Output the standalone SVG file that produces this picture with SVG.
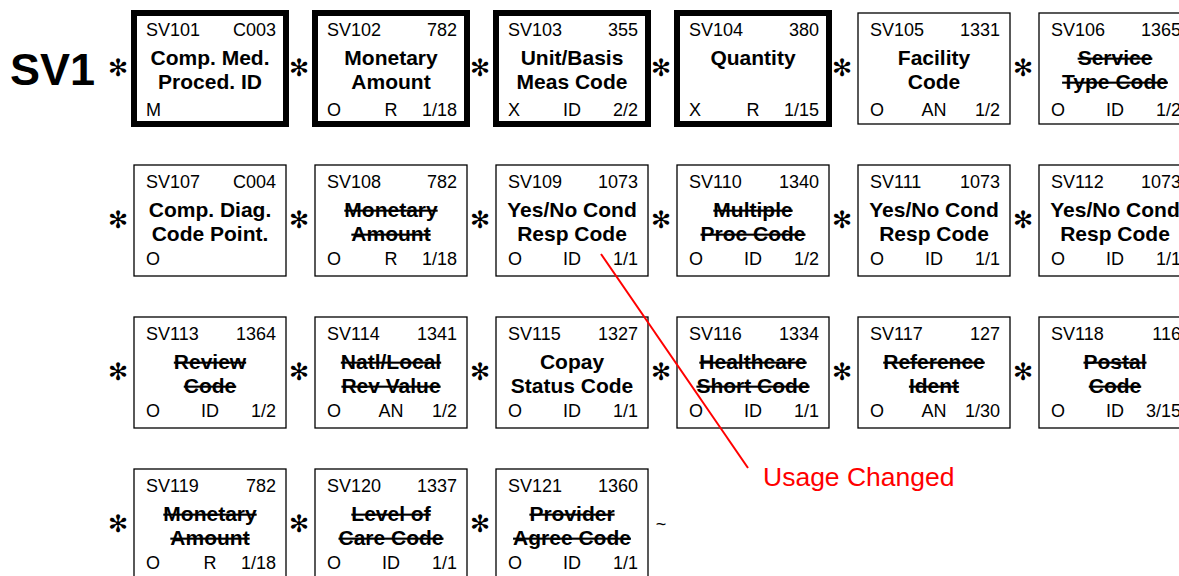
<svg xmlns="http://www.w3.org/2000/svg" width="1179" height="576" viewBox="0 0 1179 576">
<style>
  text { font-family: "Liberation Sans", Arial, sans-serif; fill: #000; }
  .box { fill: #fff; stroke: #000; stroke-width: 1.3; }
  .thick { fill: #fff; stroke: #000; stroke-width: 6; }
  .sm { font-size: 18px; }
  .r { text-anchor: end; }
  .m { text-anchor: middle; }
  .t { font-size: 21px; font-weight: bold; text-anchor: middle; }
  .s { text-decoration: line-through; }
  .ast { font-family: "DejaVu Sans", sans-serif; font-size: 24px; text-anchor: middle; }
  .red { stroke: #ff0000; stroke-width: 2; fill: none; }
</style>
<rect width="1179" height="576" fill="#fff"/>
<text x="10" y="85" style="font-size:45px;font-weight:bold">SV1</text>
<g id="separators">
  <text class="ast" x="118" y="76">✻</text><text class="ast" x="299" y="76">✻</text><text class="ast" x="480" y="76">✻</text><text class="ast" x="661" y="76">✻</text><text class="ast" x="842" y="76">✻</text><text class="ast" x="1023" y="76">✻</text>
  <text class="ast" x="118" y="228">✻</text><text class="ast" x="299" y="228">✻</text><text class="ast" x="480" y="228">✻</text><text class="ast" x="661" y="228">✻</text><text class="ast" x="842" y="228">✻</text><text class="ast" x="1023" y="228">✻</text>
  <text class="ast" x="118" y="380">✻</text><text class="ast" x="299" y="380">✻</text><text class="ast" x="480" y="380">✻</text><text class="ast" x="661" y="380">✻</text><text class="ast" x="842" y="380">✻</text><text class="ast" x="1023" y="380">✻</text>
  <text class="ast" x="118" y="532">✻</text><text class="ast" x="299" y="532">✻</text><text class="ast" x="480" y="532">✻</text>
  <text x="661" y="530" class="m" style="font-size:18px">~</text>
</g>
<g id="SV101" transform="translate(134,13)"><rect class="thick" width="152" height="111"/><text class="sm" x="12" y="23">SV101</text><text class="sm r" x="142" y="23">C003</text><text class="t" x="76" y="52">Comp. Med.</text><text class="t" x="76" y="76">Proced. ID</text><text class="sm" x="12" y="103">M</text></g>
<g id="SV102" transform="translate(315,13)"><rect class="thick" width="152" height="111"/><text class="sm" x="12" y="23">SV102</text><text class="sm r" x="142" y="23">782</text><text class="t" x="76" y="52">Monetary</text><text class="t" x="76" y="76">Amount</text><text class="sm" x="12" y="103">O</text><text class="sm m" x="76" y="103">R</text><text class="sm r" x="142" y="103">1/18</text></g>
<g id="SV103" transform="translate(496,13)"><rect class="thick" width="152" height="111"/><text class="sm" x="12" y="23">SV103</text><text class="sm r" x="142" y="23">355</text><text class="t" x="76" y="52">Unit/Basis</text><text class="t" x="76" y="76">Meas Code</text><text class="sm" x="12" y="103">X</text><text class="sm m" x="76" y="103">ID</text><text class="sm r" x="142" y="103">2/2</text></g>
<g id="SV104" transform="translate(677,13)"><rect class="thick" width="152" height="111"/><text class="sm" x="12" y="23">SV104</text><text class="sm r" x="142" y="23">380</text><text class="t" x="76" y="52">Quantity</text><text class="sm" x="12" y="103">X</text><text class="sm m" x="76" y="103">R</text><text class="sm r" x="142" y="103">1/15</text></g>
<g id="SV105" transform="translate(858,13)"><rect class="box" width="152" height="111"/><text class="sm" x="12" y="23">SV105</text><text class="sm r" x="142" y="23">1331</text><text class="t" x="76" y="52">Facility</text><text class="t" x="76" y="76">Code</text><text class="sm" x="12" y="103">O</text><text class="sm m" x="76" y="103">AN</text><text class="sm r" x="142" y="103">1/2</text></g>
<g id="SV106" transform="translate(1039,13)"><rect class="box" width="152" height="111"/><text class="sm" x="12" y="23">SV106</text><text class="sm r" x="142" y="23">1365</text><text class="t s" x="76" y="52">Service</text><text class="t s" x="76" y="76">Type Code</text><text class="sm" x="12" y="103">O</text><text class="sm m" x="76" y="103">ID</text><text class="sm r" x="142" y="103">1/2</text></g>

<g id="SV107" transform="translate(134,165)"><rect class="box" width="152" height="111"/><text class="sm" x="12" y="23">SV107</text><text class="sm r" x="142" y="23">C004</text><text class="t" x="76" y="52">Comp. Diag.</text><text class="t" x="76" y="76">Code Point.</text><text class="sm" x="12" y="100">O</text></g>
<g id="SV108" transform="translate(315,165)"><rect class="box" width="152" height="111"/><text class="sm" x="12" y="23">SV108</text><text class="sm r" x="142" y="23">782</text><text class="t s" x="76" y="52">Monetary</text><text class="t s" x="76" y="76">Amount</text><text class="sm" x="12" y="100">O</text><text class="sm m" x="76" y="100">R</text><text class="sm r" x="142" y="100">1/18</text></g>
<g id="SV109" transform="translate(496,165)"><rect class="box" width="152" height="111"/><text class="sm" x="12" y="23">SV109</text><text class="sm r" x="142" y="23">1073</text><text class="t" x="76" y="52">Yes/No Cond</text><text class="t" x="76" y="76">Resp Code</text><text class="sm" x="12" y="100">O</text><text class="sm m" x="76" y="100">ID</text><text class="sm r" x="142" y="100">1/1</text></g>
<g id="SV110" transform="translate(677,165)"><rect class="box" width="152" height="111"/><text class="sm" x="12" y="23">SV110</text><text class="sm r" x="142" y="23">1340</text><text class="t s" x="76" y="52">Multiple</text><text class="t s" x="76" y="76">Proc Code</text><text class="sm" x="12" y="100">O</text><text class="sm m" x="76" y="100">ID</text><text class="sm r" x="142" y="100">1/2</text></g>
<g id="SV111" transform="translate(858,165)"><rect class="box" width="152" height="111"/><text class="sm" x="12" y="23">SV111</text><text class="sm r" x="142" y="23">1073</text><text class="t" x="76" y="52">Yes/No Cond</text><text class="t" x="76" y="76">Resp Code</text><text class="sm" x="12" y="100">O</text><text class="sm m" x="76" y="100">ID</text><text class="sm r" x="142" y="100">1/1</text></g>
<g id="SV112" transform="translate(1039,165)"><rect class="box" width="152" height="111"/><text class="sm" x="12" y="23">SV112</text><text class="sm r" x="142" y="23">1073</text><text class="t" x="76" y="52">Yes/No Cond</text><text class="t" x="76" y="76">Resp Code</text><text class="sm" x="12" y="100">O</text><text class="sm m" x="76" y="100">ID</text><text class="sm r" x="142" y="100">1/1</text></g>

<g id="SV113" transform="translate(134,317)"><rect class="box" width="152" height="111"/><text class="sm" x="12" y="23">SV113</text><text class="sm r" x="142" y="23">1364</text><text class="t s" x="76" y="52">Review</text><text class="t s" x="76" y="76">Code</text><text class="sm" x="12" y="100">O</text><text class="sm m" x="76" y="100">ID</text><text class="sm r" x="142" y="100">1/2</text></g>
<g id="SV114" transform="translate(315,317)"><rect class="box" width="152" height="111"/><text class="sm" x="12" y="23">SV114</text><text class="sm r" x="142" y="23">1341</text><text class="t s" x="76" y="52">Natl/Local</text><text class="t s" x="76" y="76">Rev Value</text><text class="sm" x="12" y="100">O</text><text class="sm m" x="76" y="100">AN</text><text class="sm r" x="142" y="100">1/2</text></g>
<g id="SV115" transform="translate(496,317)"><rect class="box" width="152" height="111"/><text class="sm" x="12" y="23">SV115</text><text class="sm r" x="142" y="23">1327</text><text class="t" x="76" y="52">Copay</text><text class="t" x="76" y="76">Status Code</text><text class="sm" x="12" y="100">O</text><text class="sm m" x="76" y="100">ID</text><text class="sm r" x="142" y="100">1/1</text></g>
<g id="SV116" transform="translate(677,317)"><rect class="box" width="152" height="111"/><text class="sm" x="12" y="23">SV116</text><text class="sm r" x="142" y="23">1334</text><text class="t s" x="76" y="52">Healthcare</text><text class="t s" x="76" y="76">Short Code</text><text class="sm" x="12" y="100">O</text><text class="sm m" x="76" y="100">ID</text><text class="sm r" x="142" y="100">1/1</text></g>
<g id="SV117" transform="translate(858,317)"><rect class="box" width="152" height="111"/><text class="sm" x="12" y="23">SV117</text><text class="sm r" x="142" y="23">127</text><text class="t s" x="76" y="52">Reference</text><text class="t s" x="76" y="76">Ident</text><text class="sm" x="12" y="100">O</text><text class="sm m" x="76" y="100">AN</text><text class="sm r" x="142" y="100">1/30</text></g>
<g id="SV118" transform="translate(1039,317)"><rect class="box" width="152" height="111"/><text class="sm" x="12" y="23">SV118</text><text class="sm r" x="142" y="23">116</text><text class="t s" x="76" y="52">Postal</text><text class="t s" x="76" y="76">Code</text><text class="sm" x="12" y="100">O</text><text class="sm m" x="76" y="100">ID</text><text class="sm r" x="142" y="100">3/15</text></g>

<g id="SV119" transform="translate(134,469)"><rect class="box" width="152" height="111"/><text class="sm" x="12" y="23">SV119</text><text class="sm r" x="142" y="23">782</text><text class="t s" x="76" y="52">Monetary</text><text class="t s" x="76" y="76">Amount</text><text class="sm" x="12" y="100">O</text><text class="sm m" x="76" y="100">R</text><text class="sm r" x="142" y="100">1/18</text></g>
<g id="SV120" transform="translate(315,469)"><rect class="box" width="152" height="111"/><text class="sm" x="12" y="23">SV120</text><text class="sm r" x="142" y="23">1337</text><text class="t s" x="76" y="52">Level of</text><text class="t s" x="76" y="76">Care Code</text><text class="sm" x="12" y="100">O</text><text class="sm m" x="76" y="100">ID</text><text class="sm r" x="142" y="100">1/1</text></g>
<g id="SV121" transform="translate(496,469)"><rect class="box" width="152" height="111"/><text class="sm" x="12" y="23">SV121</text><text class="sm r" x="142" y="23">1360</text><text class="t s" x="76" y="52">Provider</text><text class="t s" x="76" y="76">Agree Code</text><text class="sm" x="12" y="100">O</text><text class="sm m" x="76" y="100">ID</text><text class="sm r" x="142" y="100">1/1</text></g>

<g id="connectors">
  <line class="red" x1="601" y1="254" x2="748" y2="468"/>
</g>
<g id="callout">
  <text x="763" y="486" style="font-size:26.5px;fill:#ff0000">Usage Changed</text>
</g>
</svg>
